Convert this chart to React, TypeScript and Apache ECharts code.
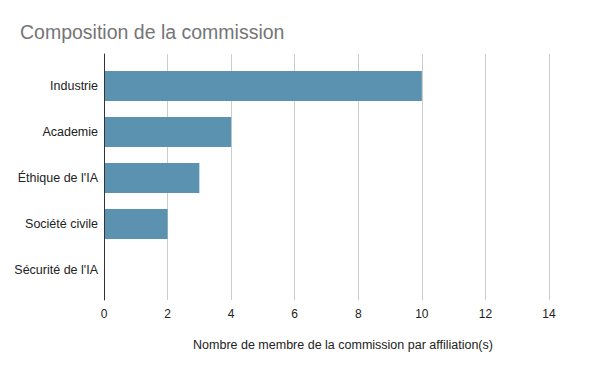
import React, { useEffect, useRef } from "react";
import * as echarts from "echarts";

const categories = ["Industrie", "Academie", "Éthique de l'IA", "Société civile", "Sécurité de l'IA"];
const values = [10, 4, 3, 2, 0];
const xTicks = [0, 2, 4, 6, 8, 10, 12, 14];
const title = "Composition de la commission";
const xAxisTitle = "Nombre de membre de la commission par affiliation(s)";

export default function App() {
  const ref = useRef<HTMLDivElement>(null);
  useEffect(() => {
    if (!ref.current) return;
    const chart = echarts.init(ref.current, undefined, { renderer: "svg" });
    const font = "Arial, 'Liberation Sans', sans-serif";
    const xMin = xTicks[0];
    const xMax = xTicks[xTicks.length - 1];
    chart.setOption({
      animation: false,
      backgroundColor: "#ffffff",
      textStyle: { fontFamily: font },
      title: {
        text: title,
        left: 15,
        top: 17,
        textStyle: { fontFamily: font, fontSize: 19.5, fontWeight: "normal", color: "#757575" },
      },
      grid: [
        { left: 104, right: 51, top: 54, bottom: 71, containLabel: false },
        { left: 104, right: 51, top: 63, bottom: 78, containLabel: false },
      ],
      xAxis: [
        {
          type: "value",
          gridIndex: 0,
          min: xMin,
          max: xMax,
          interval: 2,
          axisLine: { show: false },
          axisTick: { show: false },
          axisLabel: { color: "#222", fontSize: 12, margin: 8, fontFamily: font },
          splitLine: { show: true, lineStyle: { color: "#cccccc", width: 1 } },
        },
        {
          type: "value",
          gridIndex: 1,
          min: xMin,
          max: xMax,
          interval: 2,
          show: false,
          splitLine: { show: false },
        },
      ],
      yAxis: [
        {
          type: "value",
          gridIndex: 0,
          min: 0,
          max: 1,
          axisLine: { show: true, lineStyle: { color: "#333", width: 1 } },
          axisTick: { show: false },
          axisLabel: { show: false },
          splitLine: { show: false },
          z: 4,
        },
        {
          type: "category",
          gridIndex: 1,
          data: categories,
          inverse: true,
          axisLine: { show: false },
          axisTick: { show: false },
          axisLabel: { color: "#222", fontSize: 12.5, margin: 6, fontFamily: font },
          splitLine: { show: false },
        },
      ],
      series: [
        {
          type: "bar",
          xAxisIndex: 1,
          yAxisIndex: 1,
          data: values,
          barWidth: "65%",
          itemStyle: { color: "#5a92b0" },
          z: 3,
        },
      ],
      graphic: [
        {
          type: "text",
          x: 343,
          y: 345,
          style: {
            text: xAxisTitle,
            fill: "#222",
            font: "12.5px " + font,
            textAlign: "center",
            textVerticalAlign: "middle",
          },
        },
      ],
    });
    return () => chart.dispose();
  }, []);
  return <div ref={ref} style={{ width: 600, height: 371, position: "absolute", left: 0, top: 0 }} />;
}
